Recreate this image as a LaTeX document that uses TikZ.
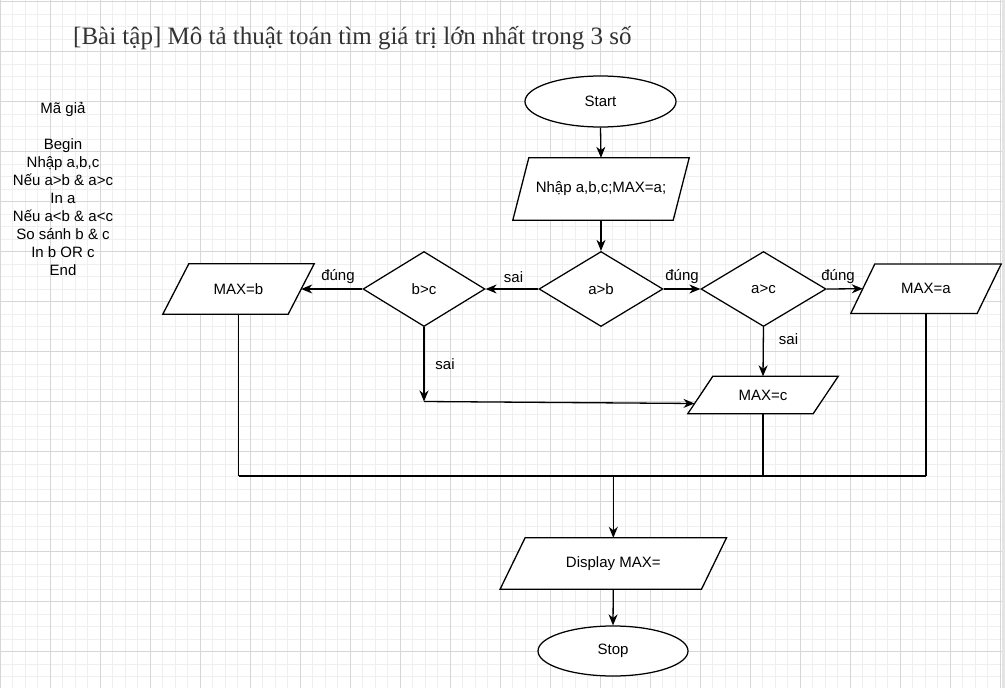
\documentclass[tikz,border=0pt]{standalone}
\usepackage{fontspec}
\setmainfont{Liberation Sans}
\newfontfamily\titlefont{Liberation Serif}
\usetikzlibrary{shapes.geometric,arrows.meta}
\pgfdeclarelayer{bg}
\pgfdeclarelayer{mid}
\pgfsetlayers{bg,mid,main}
\definecolor{titlecol}{HTML}{333333}
\definecolor{gridminor}{HTML}{EFEFEF}
\definecolor{gridmajor}{HTML}{D6D6D6}
\definecolor{edgegray}{HTML}{E4E4E4}
\newcommand{\paraout}[2]{\draw[line, fill=white] ([xshift=#2]#1.north west) -- ([xshift=#2]#1.north east) -- ([xshift=-#2]#1.south east) -- ([xshift=-#2]#1.south west) -- cycle;}
\begin{document}
\begin{tikzpicture}[x=1pt,y=-1pt,
  txt/.style={font=\fontsize{15}{18}\selectfont},
  line/.style={draw=black,line width=1.3pt},
  arr/.style={line,-{Stealth[length=11pt,width=9pt,inset=3.5pt]}},
  term/.style={ellipse,draw=black,line width=1.25pt,fill=white,inner sep=0pt,minimum width=151pt,minimum height=51pt,txt},
  dec/.style={diamond,draw=black,line width=1.25pt,fill=white,inner sep=0pt,txt},
  io/.style={rectangle,inner sep=0pt,txt},
  lbl/.style={inner sep=0pt,txt}
]
\useasboundingbox (0,0) rectangle (1005,688);
\begin{pgfonlayer}{bg}
  \fill[white] (0,0) rectangle (1005,688);
  \foreach \i in {0,...,80} \draw[gridminor,line width=1pt] ({\i*12.5},0) -- ({\i*12.5},688);
  \foreach \j in {0,...,55} \draw[gridminor,line width=1pt] (0,{1.7+\j*12.5}) -- (1005,{1.7+\j*12.5});
  \foreach \i in {0,...,20} \draw[gridmajor,line width=1pt] ({\i*50},0) -- ({\i*50},688);
  \foreach \j in {0,...,13} \draw[gridmajor,line width=1pt] (0,{1.7+\j*50}) -- (1005,{1.7+\j*50});
  \fill[edgegray] (1002,0) rectangle (1005,688);
\end{pgfonlayer}

% title and pseudo code
\node[anchor=base west,inner sep=0pt,font=\titlefont\fontsize{25}{29}\selectfont,text=titlecol] (title) at (73,44) {[Bài tập] Mô tả thuật toán tìm giá trị lớn nhất trong 3 số};
\node[anchor=north,inner sep=0pt,align=center,txt] (pseudo) at (63,102) {Mã giả\\\mbox{}\\Begin\\Nhập a,b,c\\Nếu a>b \& a>c\\In a\\Nếu a<b \& a<c\\So sánh b \& c\\In b OR c\\End};

% nodes
\node[term] (start) at (600.5,101.5) {Start};
\node[io,minimum width=160pt,minimum height=62pt] (inp) at (601,189) {Nhập a,b,c;MAX=a;};
\node[dec,minimum width=124pt,minimum height=75pt] (ab) at (601,289) {a>b};
\node[dec,minimum width=125pt,minimum height=75pt] (ac) at (763.5,289) {a>c};
\node[dec,minimum width=122pt,minimum height=75pt] (bc) at (424,289) {b>c};
\node[io,minimum width=126pt,minimum height=49pt] (maxa) at (926,288.7) {MAX=a};
\node[io,minimum width=125pt,minimum height=50pt] (maxb) at (238.5,289) {MAX=b};
\node[io,minimum width=125pt,minimum height=37pt] (maxc) at (763,395) {MAX=c};
\node[io,minimum width=201pt,minimum height=51pt] (disp) at (613.3,563.5) {Display MAX=};
\node[term,minimum width=150pt,minimum height=50pt] (stop) at (613,651) {Stop};

\begin{pgfonlayer}{mid}
  \paraout{inp}{8pt}
  \paraout{maxa}{12pt}
  \paraout{maxb}{13pt}
  \paraout{maxc}{12.5pt}
  \paraout{disp}{12.5pt}
\end{pgfonlayer}

% labels
\node[lbl] (l1) at (513.5,277) {sai};
\node[lbl] (l2) at (338,277) {đúng};
\node[lbl] (l3) at (682,277) {đúng};
\node[lbl] (l4) at (838,277) {đúng};
\node[lbl] (l5) at (788.5,339) {sai};
\node[lbl] (l6) at (445,364) {sai};

% connectors
\coordinate (p1) at (424,401.5);
\coordinate (q) at ([xshift=-5.8pt,yshift=-8.5pt]maxc.west);
\coordinate (bus) at (0,476);
\draw[arr] (start.south) -- (inp.north);
\draw[arr] (inp.south) -- (ab.north);
\draw[arr] (ab.west) -- (bc.east);
\draw[arr] (bc.west) -- (maxb.east);
\draw[arr] (ab.east) -- (ac.west);
\draw[arr] (ac.east) -- (maxa.west);
\draw[arr] (ac.south) -- (maxc.north);
\draw[arr] (bc.south) -- (p1);
\draw[arr] (p1) -- (q);
\draw[line] (maxb.south) -- (maxb.south |- bus);
\draw[line] (maxc.south) -- (maxc.south |- bus);
\draw[line] (maxa.south) -- (maxa.south |- bus);
\draw[line] (maxb.south |- bus) -- (maxa.south |- bus);
\draw[arr] (disp.north |- bus) -- (disp.north);
\draw[arr] (disp.south) -- (stop.north);
\end{tikzpicture}
\end{document}
